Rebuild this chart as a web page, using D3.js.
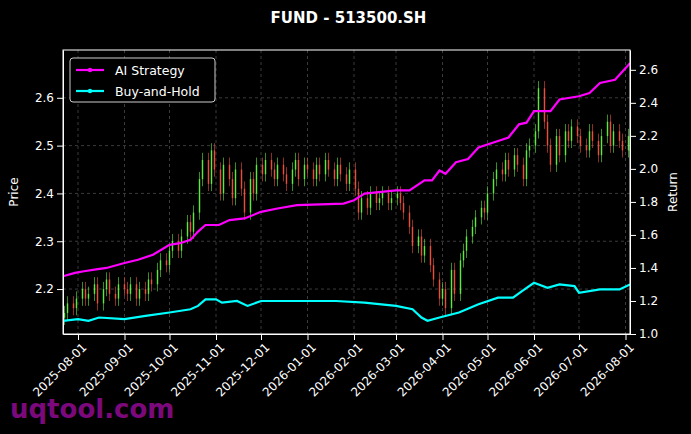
<!DOCTYPE html>
<html>
<head>
<meta charset="utf-8">
<script src="https://d3js.org/d3.v7.min.js"></script>
<style>
  body { margin: 0; background: #000; }
  text { font-family: "DejaVu Sans", sans-serif; }
</style>
</head>
<body>
<script>
// closes, one every other trading day from 2025-07-23
var closes = [
  2.15,2.17,2.16,2.18,
  2.20,2.18,2.19,2.21,2.17,2.20,2.22,2.19,2.18,2.21,2.20,
  2.19,2.21,2.18,2.20,2.19,2.22,2.21,2.24,2.26,2.25,2.28,
  2.30,2.28,2.31,2.34,2.32,2.36,2.43,2.47,2.42,2.49,2.45,
  2.40,2.46,2.43,2.39,2.45,2.41,2.36,2.43,2.40,2.46,
  2.44,2.47,2.45,2.43,2.46,2.44,2.42,2.45,2.47,2.43,2.46,
  2.45,2.43,2.46,2.44,2.47,2.45,2.43,2.46,2.44,2.42,2.45,
  2.41,2.36,2.39,2.37,2.40,2.38,2.39,2.40,2.38,2.39,
  2.40,2.38,2.36,2.33,2.29,2.31,2.27,2.29,2.25,2.22,2.18,
  2.20,2.16,2.24,2.19,2.26,2.28,2.31,2.33,2.35,2.37,2.36,
  2.40,2.43,2.45,2.44,2.47,2.45,2.48,2.46,2.43,2.49,2.50,
  2.53,2.62,2.55,2.50,2.46,2.52,2.48,2.53,2.51,2.54,2.52,
  2.50,2.49,2.53,2.51,2.48,2.52,2.55,2.50,2.53,2.51,2.49,
  2.52
];
var strategy = [
  ["2025-07-22",1.35],["2025-07-30",1.37],["2025-08-05",1.38],["2025-08-12",1.39],["2025-08-20",1.40],
  ["2025-09-01",1.43],["2025-09-10",1.45],["2025-09-20",1.48],["2025-10-01",1.54],["2025-10-08",1.55],
  ["2025-10-15",1.57],["2025-10-20",1.62],["2025-10-25",1.66],["2025-11-03",1.66],["2025-11-10",1.69],
  ["2025-11-20",1.70],["2025-12-01",1.74],["2025-12-12",1.76],["2025-12-25",1.78],["2026-01-25",1.79],
  ["2026-02-01",1.81],["2026-02-08",1.85],["2026-03-01",1.87],["2026-03-10",1.87],["2026-03-20",1.93],
  ["2026-03-25",1.93],["2026-03-30",1.99],["2026-04-03",1.97],["2026-04-10",2.04],["2026-04-18",2.06],
  ["2026-04-25",2.13],["2026-05-05",2.16],["2026-05-15",2.19],["2026-05-22",2.27],["2026-05-27",2.28],
  ["2026-06-01",2.35],["2026-06-12",2.35],["2026-06-18",2.42],["2026-07-01",2.44],["2026-07-08",2.46],
  ["2026-07-15",2.52],["2026-07-25",2.54],["2026-08-04",2.64]
];
var buyHold = [
  ["2025-07-22",1.08],["2025-08-01",1.09],["2025-08-08",1.08],["2025-08-15",1.10],["2025-09-01",1.09],
  ["2025-09-15",1.11],["2025-10-01",1.13],["2025-10-15",1.15],["2025-10-20",1.17],["2025-10-25",1.21],
  ["2025-11-01",1.21],["2025-11-05",1.19],["2025-11-15",1.20],["2025-11-22",1.17],["2025-12-01",1.20],
  ["2025-12-25",1.20],["2026-01-20",1.20],["2026-02-08",1.19],["2026-03-01",1.17],["2026-03-12",1.15],
  ["2026-03-18",1.10],["2026-03-22",1.08],["2026-03-30",1.10],["2026-04-12",1.13],["2026-04-25",1.18],
  ["2026-05-08",1.22],["2026-05-18",1.22],["2026-05-24",1.26],["2026-06-01",1.31],["2026-06-10",1.28],
  ["2026-06-18",1.30],["2026-06-28",1.29],["2026-07-01",1.25],["2026-07-15",1.27],["2026-07-28",1.27],
  ["2026-08-04",1.30]
];
var tickDates = ["2025-08-01","2025-09-01","2025-10-01","2025-11-01","2025-12-01","2026-01-01",
  "2026-02-01","2026-03-01","2026-04-01","2026-05-01","2026-06-01","2026-07-01","2026-08-01"];
var priceTicks = [2.2, 2.3, 2.4, 2.5, 2.6];
var returnTicks = [1.0, 1.2, 1.4, 1.6, 1.8, 2.0, 2.2, 2.4, 2.6];

var W = 691, H = 434, L = 63, R = 630, T = 50, B = 334;
var parse = d3.utcParse("%Y-%m-%d");

// every other weekday from 2025-07-23
var days = [], d = parse("2025-07-23"), k = 0;
while (days.length < closes.length) {
  var wd = d.getUTCDay();
  if (wd !== 0 && wd !== 6) { if (k % 2 === 0) days.push(new Date(d)); k++; }
  d = d3.utcDay.offset(d, 1);
}
var candles = closes.map(function (c, i) {
  var o = i === 0 ? c - 0.01 : closes[i - 1];
  return { date: days[i], o: o, c: c, h: Math.max(o, c) + 0.015, l: Math.min(o, c) - 0.015 };
});

var x = d3.scaleUtc().domain([parse("2025-07-22"), parse("2026-08-04")]).range([L, R]);
var yP = d3.scaleLinear().domain([2.106, 2.70]).range([B, T]);
var yR = d3.scaleLinear().domain([1.0, 2.72]).range([B, T]);

var svg = d3.select("body").append("svg").attr("width", W).attr("height", H);
svg.append("rect").attr("width", W).attr("height", H).attr("fill", "#000");

// grid
var grid = svg.append("g").attr("stroke", "#555").attr("stroke-dasharray", "3,3").attr("stroke-width", 0.7);
tickDates.forEach(function (t) {
  grid.append("line").attr("x1", x(parse(t))).attr("x2", x(parse(t))).attr("y1", T).attr("y2", B);
});
priceTicks.forEach(function (t) {
  grid.append("line").attr("x1", L).attr("x2", R).attr("y1", yP(t)).attr("y2", yP(t));
});

// candles
var cg = svg.append("g");
candles.forEach(function (c) {
  var col = c.c >= c.o ? "#66ff44" : "#ff5544";
  var cx = x(c.date);
  cg.append("line").attr("x1", cx).attr("x2", cx).attr("y1", yP(c.h)).attr("y2", yP(c.l))
    .attr("stroke", col).attr("stroke-width", 0.7).attr("opacity", 0.8);
  cg.append("rect").attr("x", cx - 0.75).attr("width", 1.5)
    .attr("y", yP(Math.max(c.o, c.c))).attr("height", Math.max(1, Math.abs(yP(c.o) - yP(c.c))))
    .attr("fill", col).attr("opacity", 0.8);
});

var line = d3.line().x(function (p) { return x(parse(p[0])); }).y(function (p) { return yR(p[1]); });
svg.append("path").datum(buyHold).attr("d", line).attr("fill", "none").attr("stroke", "#00ffff").attr("stroke-width", 2.2);
svg.append("path").datum(strategy).attr("d", line).attr("fill", "none").attr("stroke", "#ff00ff").attr("stroke-width", 2.2);

// axes
function style(g) {
  g.selectAll("path,line").attr("stroke", "#fff");
  g.selectAll("text").attr("fill", "#fff").style("font-size", "12px").style("font-family", "DejaVu Sans");
}
svg.append("g").attr("transform", "translate(0," + B + ")")
  .call(d3.axisBottom(x).tickValues(tickDates.map(parse)).tickFormat(d3.utcFormat("%Y-%m-%d")).tickSizeOuter(0))
  .call(style)
  .selectAll("text").attr("text-anchor", "end").attr("dx", "-0.3em").attr("dy", "0.6em").attr("transform", "rotate(-45)");
svg.append("g").attr("transform", "translate(" + L + ",0)")
  .call(d3.axisLeft(yP).tickValues(priceTicks).tickFormat(d3.format(".1f")).tickSizeOuter(0)).call(style);
svg.append("g").attr("transform", "translate(" + R + ",0)")
  .call(d3.axisRight(yR).tickValues(returnTicks).tickFormat(d3.format(".1f")).tickSizeOuter(0)).call(style);
svg.append("rect").attr("x", L).attr("y", T).attr("width", R - L).attr("height", B - T)
  .attr("fill", "none").attr("stroke", "#fff").attr("stroke-width", 1);

svg.append("text").attr("x", 18).attr("y", (T + B) / 2).attr("transform", "rotate(-90,18," + (T + B) / 2 + ")")
  .attr("text-anchor", "middle").attr("fill", "#fff").style("font-size", "12px").text("Price");
svg.append("text").attr("x", 677).attr("y", (T + B) / 2).attr("transform", "rotate(-90,677," + (T + B) / 2 + ")")
  .attr("text-anchor", "middle").attr("fill", "#fff").style("font-size", "12px").text("Return");
svg.append("text").attr("x", (L + R) / 2 + 2).attr("y", 23).attr("text-anchor", "middle").attr("fill", "#fff")
  .style("font-size", "15px").style("font-weight", "bold").text("FUND - 513500.SH");

// legend
var lg = svg.append("g").attr("transform", "translate(70,58)");
lg.append("rect").attr("width", 145).attr("height", 44).attr("rx", 3).attr("fill", "#000").attr("stroke", "#ccc");
[["AI Strategy", "#ff00ff"], ["Buy-and-Hold", "#00ffff"]].forEach(function (s, i) {
  var yy = 12 + i * 21;
  lg.append("line").attr("x1", 6).attr("x2", 34).attr("y1", yy).attr("y2", yy).attr("stroke", s[1]).attr("stroke-width", 2.2);
  lg.append("circle").attr("cx", 20).attr("cy", yy).attr("r", 2.2).attr("fill", s[1]);
  lg.append("text").attr("x", 45).attr("y", yy + 4.5).attr("fill", "#fff").style("font-size", "12.5px").text(s[0]);
});

svg.append("text").attr("x", 10).attr("y", 418).attr("fill", "#8a0a8a").attr("opacity", 0.9)
  .style("font-size", "26px").style("font-weight", "bold").text("uqtool.com");
</script>
</body>
</html>
